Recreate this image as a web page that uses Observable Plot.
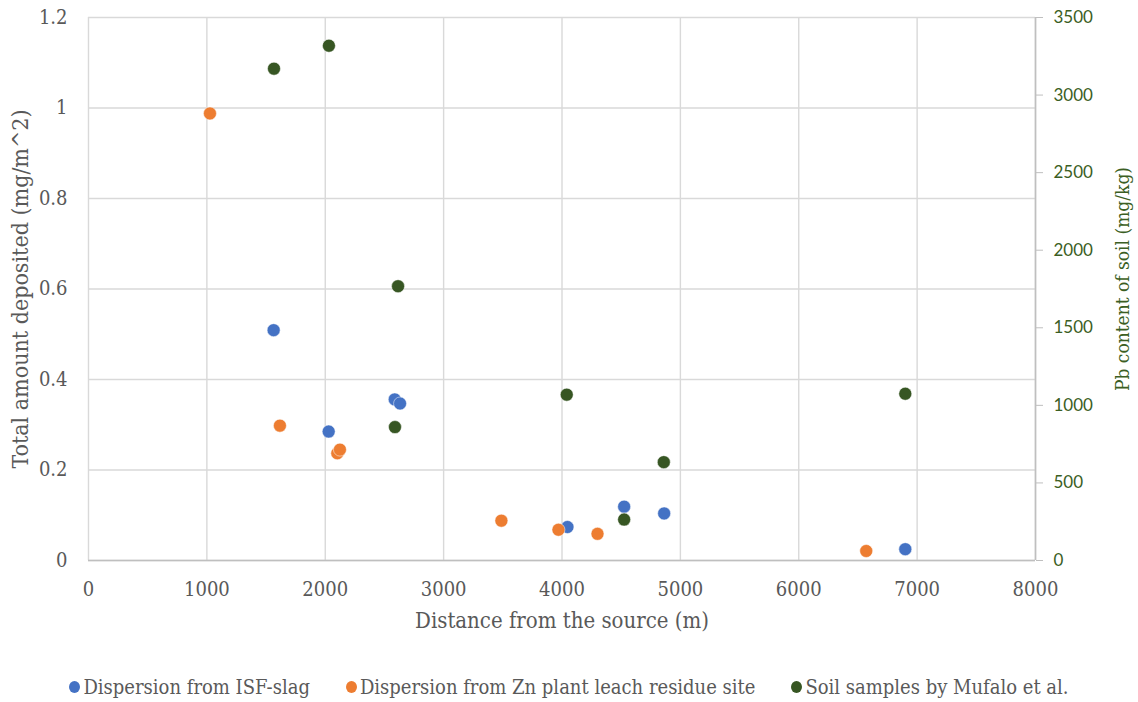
<!DOCTYPE html>
<html><head><meta charset="utf-8">
<script src="https://cdn.jsdelivr.net/npm/d3@7"></script>
<script src="https://cdn.jsdelivr.net/npm/@observablehq/plot@0.6"></script>
<style>
body{margin:0;background:#fff;}
#legend{display:flex;justify-content:center;align-items:center;gap:36px;padding-top:12px;height:30px;line-height:30px;font-family:"DejaVu Serif Condensed","DejaVu Serif",serif;font-stretch:condensed;font-size:20px;color:#595959;}
#legend .item{display:flex;align-items:center;white-space:nowrap;}
#legend .sw{display:inline-block;width:11px;height:12px;border-radius:50%;margin-right:3px;}
svg text{font-stretch:condensed;}
</style>
</head><body>
<div id="chart"></div>
<div id="legend"></div>
<script>
// Series: Dispersion from ISF-slag (left axis, mg/m^2)
const isfX = [1564, 2029, 2587, 2632, 4046, 4525, 4863, 6900];
const isfY = [0.509, 0.285, 0.356, 0.347, 0.074, 0.119, 0.104, 0.025];
// Series: Dispersion from Zn plant leach residue site (left axis, mg/m^2)
const znX = [1026, 1617, 2102, 2124, 3488, 3970, 4300, 6570];
const znY = [0.988, 0.298, 0.237, 0.245, 0.088, 0.068, 0.059, 0.021];
// Series: Soil samples by Mufalo et al. (right axis, Pb mg/kg)
const soilX = [1567, 2031, 2615, 2589, 4040, 4860, 4525, 6900];
const soilPb = [3170, 3318, 1768, 860, 1069, 634, 264, 1075];

const seriesNames = ["Dispersion from ISF-slag", "Dispersion from Zn plant leach residue site", "Soil samples by Mufalo et al."];
const seriesColors = ["#4472c4", "#ed7d31", "#375623"];

const xTicks = [0, 1000, 2000, 3000, 4000, 5000, 6000, 7000, 8000];
const leftTicks = [0, 0.2, 0.4, 0.6, 0.8, 1, 1.2];
const rightTicks = [0, 500, 1000, 1500, 2000, 2500, 3000, 3500];

const xTitle = "Distance from the source (m)";
const leftTitle = "Total amount deposited (mg/m^2)";
const rightTitle = "Pb content of soil (mg/kg)";

const leftMax = 1.2, rightMax = 3500;
const k = leftMax / rightMax;

const isf = isfX.map((x, i) => ({x, y: isfY[i]}));
const zn = znX.map((x, i) => ({x, y: znY[i]}));
const soil = soilX.map((x, i) => ({x, y: soilPb[i] * k}));

const green = "#3b5e23";
const serif = "'DejaVu Serif Condensed', 'DejaVu Serif', serif";
const chart = Plot.plot({
  width: 1138, height: 660,
  marginLeft: 88, marginRight: 103, marginTop: 17, marginBottom: 100,
  x: {domain: [0, 8000]},
  y: {domain: [0, leftMax]},
  style: {fontFamily: serif, color: "#595959", background: "white", overflow: "visible"},
  marks: [
    Plot.gridX(xTicks, {stroke: "#d9d9d9", strokeOpacity: 1, strokeWidth: 1.4}),
    Plot.gridY(leftTicks, {stroke: "#d9d9d9", strokeOpacity: 1, strokeWidth: 1.4}),
    Plot.ruleY([0], {stroke: "#bfbfbf", strokeWidth: 1.6}),
    Plot.ruleX([8000], {stroke: "#bfbfbf", strokeWidth: 1.6}),
    Plot.axisX({ticks: xTicks, tickSize: 0, tickPadding: 21, fontSize: 20, label: null, tickFormat: d => String(d)}),
    Plot.axisY({ticks: leftTicks, tickSize: 0, tickPadding: 21, fontSize: 20, label: null, tickFormat: d => String(+d.toFixed(1))}),
    Plot.axisY({anchor: "right", ticks: rightTicks.map(v => v * k), tickSize: 7, tickPadding: 11,
      stroke: "#bfbfbf", fill: green, fontSize: 17, fontFamily: "Lato, sans-serif", label: null,
      tickFormat: d => String(Math.round(d / k))}),
    Plot.text([xTitle], {frameAnchor: "bottom", dy: 67, fontSize: 22, fill: "#595959"}),
    Plot.text([leftTitle], {frameAnchor: "left", dx: -68, rotate: -90, textAnchor: "middle", fontSize: 23, fill: "#595959"}),
    Plot.text([rightTitle], {frameAnchor: "right", dx: 87, dy: -10, rotate: -90, textAnchor: "middle", fontSize: 19, fill: green}),
    Plot.dot(isf, {x: "x", y: "y", r: 6.5, fill: seriesColors[0], stroke: "white", strokeWidth: 0.5}),
    Plot.dot(zn, {x: "x", y: "y", r: 6.5, fill: seriesColors[1], stroke: "white", strokeWidth: 0.5}),
    Plot.dot(soil, {x: "x", y: "y", r: 6.5, fill: seriesColors[2], stroke: "white", strokeWidth: 0.5})
  ]
});
document.getElementById("chart").appendChild(chart);

const legend = document.getElementById("legend");
seriesNames.forEach((name, i) => {
  const item = document.createElement("div");
  item.className = "item";
  const sw = document.createElement("span");
  sw.className = "sw";
  sw.style.background = seriesColors[i];
  item.appendChild(sw);
  item.appendChild(document.createTextNode(name));
  legend.appendChild(item);
});
</script>
</body></html>
